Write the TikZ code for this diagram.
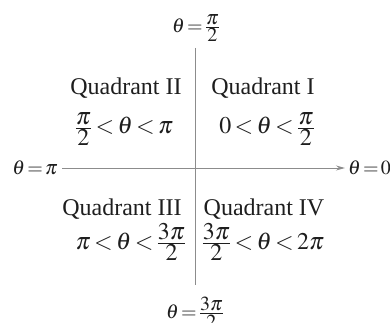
\documentclass[tikz,border=0pt]{standalone}
\usepackage{amsmath}
\usepackage{mathptmx}
\usepackage{fontspec}
\setmainfont{Liberation Serif}
\usetikzlibrary{arrows.meta}
\definecolor{axisgray}{RGB}{140,140,140}
\definecolor{inkc}{RGB}{30,30,30}
\newcommand{\qfontsel}{\fontsize{24}{28}\selectfont\thickmuskip=2.5mu\relax}
\newcommand{\afontsel}{\fontsize{20}{24}\selectfont\thickmuskip=2mu\relax}
\newcommand{\tfr}[2]{\frac{\textstyle #1}{\textstyle #2}}
\tikzset{
  axisline/.style={draw=axisgray, line width=1pt},
  qlabel/.style={anchor=base, inner sep=0pt, text=inkc, font=\qfontsel},
  alabel/.style={inner sep=0pt, text=inkc, font=\afontsel},
}
\begin{document}
\begin{tikzpicture}[x=1pt,y=-1pt]
\useasboundingbox (0,0) rectangle (390,323);
\coordinate (L) at (62,168);
\coordinate (R) at (345,168);
\coordinate (T) at (195,48);
\coordinate (B) at (195,285);
\draw[axisline] (T) -- (B);
\draw[axisline, -{Stealth[length=9pt,width=5pt]}] (L) -- (R);
\node[alabel, anchor=east] (lpi) at (58,168) {$\theta=\pi$};
\node[alabel, anchor=west] (lzero) at (348,168) {$\theta=0$};
\node[alabel] (ltop) at (196,28) {$\theta=\tfr{\pi}{2}$};
\node[alabel] (lbot) at (195,313) {$\theta=\tfr{3\pi}{2}$};
\node[qlabel] (q2) at (126,95) {Quadrant II};
\node[qlabel] (q1) at (263,95) {Quadrant I};
\node[qlabel] (q3) at (122,215) {Quadrant III};
\node[qlabel] (q4) at (264,215) {Quadrant IV};
\node[qlabel] (m2) at (124,134) {$\tfr{\pi}{2}<\theta<\pi$};
\node[qlabel] (m1) at (267,134) {$0<\theta<\tfr{\pi}{2}$};
\node[qlabel] (m3) at (131,249) {$\pi<\theta<\tfr{3\pi}{2}$};
\node[qlabel] (m4) at (263,249) {$\tfr{3\pi}{2}<\theta<2\pi$};
\end{tikzpicture}
\end{document}
